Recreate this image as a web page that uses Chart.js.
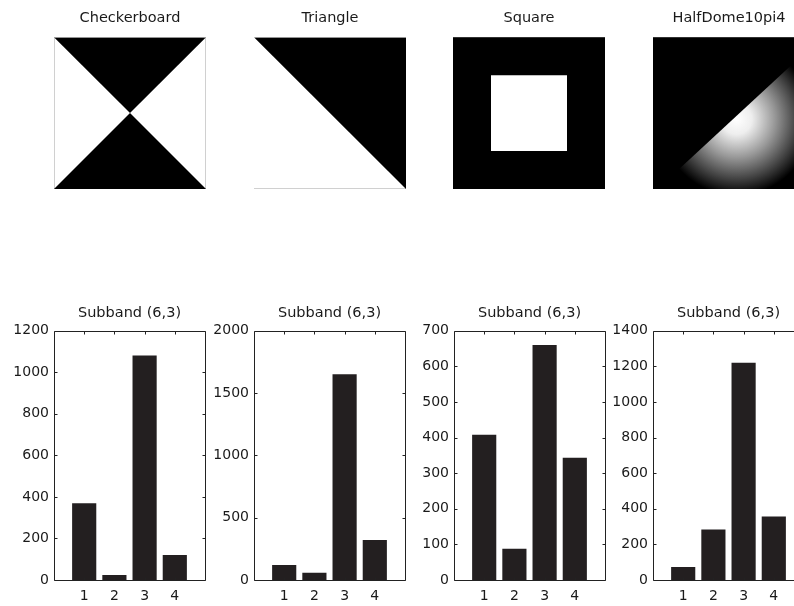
<!DOCTYPE html>
<html>
<head>
<meta charset="utf-8">
<script src="https://cdn.jsdelivr.net/npm/chart.js@4/dist/chart.umd.min.js"></script>
<style>
	html, body { margin: 0; padding: 0; background: #fff; width: 794px; height: 606px; overflow: hidden; }
	canvas { position: absolute; }
</style>
</head>
<body>
<script>
'use strict';

// data

const imageTitles = ['Checkerboard', 'Triangle', 'Square', 'HalfDome10pi4'];
const barTitle = 'Subband (6,3)';

const categories = [1, 2, 3, 4];
const checker_values = [369, 24, 1081, 120];
const triangle_values = [120, 59, 1650, 321];
const square_values = [408, 88, 660, 343];
const halfdome_values = [73, 284, 1220, 356];

const y_max = [1200, 2000, 700, 1400];
const y_step = [200, 500, 100, 200];

// image shapes (unit square, y up)
const checker_top = [{x: 0, y: 1}, {x: 0.5, y: 0.5}, {x: 1, y: 1}];
const checker_bottom = [{x: 0, y: 0}, {x: 0.5, y: 0.5}, {x: 1, y: 0}];
const triangle_edge = [{x: 0, y: 1}, {x: 1, y: 0}];
const square_top = [{x: 0.25, y: 0.75}, {x: 0.75, y: 0.75}];
const square_bottom = [{x: 0.25, y: 0.25}, {x: 0.75, y: 0.25}];
const dome_edge = [{x: 0.03, y: 0}, {x: 1, y: 0.9}];
const dome_center = [0.55, 0.46];
const dome_radius = 0.5;

Chart.defaults.font.family = 'DejaVu Sans';
Chart.defaults.font.size = 14;
Chart.defaults.color = '#1a1a1a';

const image_left = [54, 254, 453, 653];
const axes_left = [54, 254, 454, 653];

const makeCanvas = (left, top, w, h) => {
	const c = document.createElement('canvas');
	c.width = w;
	c.height = h;
	c.style.left = left + 'px';
	c.style.top = top + 'px';
	c.style.width = w + 'px';
	c.style.height = h + 'px';
	document.body.appendChild(c);
	return c.getContext('2d');
};

// background behind the image area, and thin edges
const bgPlugin = {
	id: 'areaBg',
	beforeDatasetsDraw(chart, args, opts) {
		const a = chart.chartArea;
		const ctx = chart.ctx;
		ctx.save();
		if(opts.color) {
			ctx.fillStyle = opts.color;
			ctx.fillRect(a.left, a.top, a.right - a.left, a.bottom - a.top);
		}
		if(opts.edges) {
			ctx.strokeStyle = '#d0d0d0';
			ctx.lineWidth = 1;
			ctx.beginPath();
			opts.edges.forEach(e => {
				if(e === 'left') { ctx.moveTo(a.left + 0.5, a.top); ctx.lineTo(a.left + 0.5, a.bottom); }
				if(e === 'right') { ctx.moveTo(a.right - 0.5, a.top); ctx.lineTo(a.right - 0.5, a.bottom); }
				if(e === 'bottom') { ctx.moveTo(a.left, a.bottom - 0.5); ctx.lineTo(a.right, a.bottom - 0.5); }
			});
			ctx.stroke();
		}
		ctx.restore();
	}
};

// matlab style box with inward ticks
const boxPlugin = {
	id: 'mBox',
	afterDraw(chart) {
		const a = chart.chartArea;
		const ctx = chart.ctx;
		const xs = chart.scales.x, ys = chart.scales.y;
		const L = Math.round(a.left) + 0.5, R = Math.round(a.right) + 0.5;
		const T = Math.round(a.top) + 0.5, B = Math.round(a.bottom) + 0.5;
		ctx.save();
		ctx.strokeStyle = '#222';
		ctx.lineWidth = 1;
		ctx.beginPath();
		ctx.rect(L, T, R - L, B - T);
		ys.ticks.forEach(t => {
			const py = Math.round(ys.getPixelForValue(t.value)) + 0.5;
			ctx.moveTo(L, py); ctx.lineTo(L + 3, py);
			ctx.moveTo(R, py); ctx.lineTo(R - 3, py);
		});
		xs.ticks.forEach(t => {
			const px = Math.round(xs.getPixelForValue(t.value)) + 0.5;
			ctx.moveTo(px, B); ctx.lineTo(px, B - 3);
			ctx.moveTo(px, T); ctx.lineTo(px, T + 3);
		});
		ctx.stroke();
		ctx.restore();
	}
};

const domeFill = (context) => {
	const chart = context.chart;
	if(!chart.chartArea) return '#fff';
	const xs = chart.scales.x, ys = chart.scales.y;
	const cx = xs.getPixelForValue(dome_center[0]);
	const cy = ys.getPixelForValue(dome_center[1]);
	const r = xs.getPixelForValue(dome_radius) - xs.getPixelForValue(0);
	const g = chart.ctx.createRadialGradient(cx, cy, 0, cx, cy, r);
	g.addColorStop(0, '#ffffff');
	g.addColorStop(0.2, '#eeeeee');
	g.addColorStop(0.5, '#999999');
	g.addColorStop(0.78, '#444444');
	g.addColorStop(1, '#000000');
	return g;
};

const shape = (data, fill, color) => ({
	data: data,
	fill: fill,
	backgroundColor: color,
	borderWidth: 0,
	pointRadius: 0
});

const image_sets = [
	{bg: null, edges: ['left', 'right'], datasets: [shape(checker_top, 'end', '#000'), shape(checker_bottom, 'start', '#000')]},
	{bg: null, edges: ['bottom'], datasets: [shape(triangle_edge, 'end', '#000')]},
	{bg: '#000', edges: null, datasets: [shape(square_top, '+1', '#fff'), shape(square_bottom, false, '#fff')]},
	{bg: '#000', edges: null, datasets: [shape(dome_edge, 'start', domeFill)]}
];

image_sets.forEach((s, i) => {
	const ctx = makeCanvas(image_left[i], 0, 152, 189);
	new Chart(ctx, {
		type: 'line',
		data: {datasets: s.datasets},
		plugins: [bgPlugin],
		options: {
			responsive: false,
			animation: false,
			devicePixelRatio: 1,
			layout: {autoPadding: false, padding: 0},
			plugins: {
				legend: {display: false},
				tooltip: {enabled: false},
				areaBg: {color: s.bg, edges: s.edges},
				title: {
					display: true,
					text: imageTitles[i],
					font: {size: 14.5, weight: 'normal'},
					padding: {top: 9.4, bottom: 10.4}
				}
			},
			scales: {
				x: {type: 'linear', min: 0, max: 1, display: false},
				y: {type: 'linear', min: 0, max: 1, display: false}
			}
		}
	});
});

// bar charts

const bar_values = [checker_values, triangle_values, square_values, halfdome_values];

bar_values.forEach((vals, i) => {
	// canvas symmetric around the axes so the title centres on it
	const ctx = makeCanvas(axes_left[i] - 50, 300, 251, 306);
	new Chart(ctx, {
		type: 'bar',
		data: {
			datasets: [{
				data: categories.map((c, k) => ({x: c, y: vals[k]})),
				backgroundColor: '#231f20',
				borderWidth: 0,
				barPercentage: 0.8,
				categoryPercentage: 1
			}]
		},
		plugins: [boxPlugin],
		options: {
			responsive: false,
			animation: false,
			devicePixelRatio: 1,
			layout: {padding: 0},
			plugins: {
				legend: {display: false},
				tooltip: {enabled: false},
				title: {
					display: true,
					text: barTitle,
					font: {size: 14.5, weight: 'normal'},
					padding: {top: 4.8, bottom: 8.5}
				}
			},
			scales: {
				x: {
					type: 'linear',
					min: 0,
					max: 5,
					offset: false,
					grid: {display: false, drawTicks: false, offset: false},
					border: {display: false},
					afterBuildTicks: (scale) => {
						scale.ticks = categories.map(c => ({value: c}));
					},
					afterFit: (scale) => { scale.height = 26; },
					ticks: {padding: 8, maxRotation: 0, autoSkip: false, callback: v => String(v)}
				},
				y: {
					min: 0,
					max: y_max[i],
					grid: {display: false, drawTicks: false},
					border: {display: false},
					afterFit: (scale) => { scale.width = 50; },
					ticks: {stepSize: y_step[i], padding: 5, callback: v => String(v)}
				},
				yRight: {
					position: 'right',
					display: true,
					min: 0,
					max: 1,
					grid: {display: false, drawTicks: false},
					border: {display: false},
					ticks: {display: false},
					afterFit: (scale) => { scale.width = 50; }
				}
			}
		}
	});
});
</script>
</body>
</html>
